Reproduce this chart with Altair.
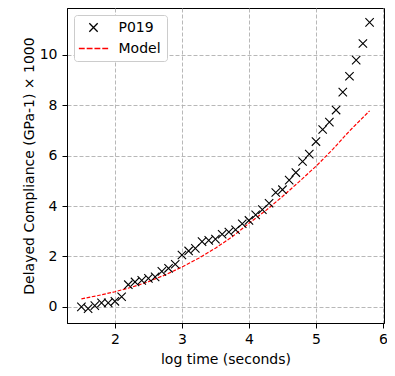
import altair as alt
import pandas as pd

# Measured data (log time, delayed compliance x1000)
log_time = [1.5, 1.6, 1.7, 1.8, 1.9, 2.0, 2.1, 2.2, 2.3, 2.4, 2.5, 2.6, 2.7, 2.8, 2.9,
            3.0, 3.1, 3.2, 3.3, 3.4, 3.5, 3.6, 3.7, 3.8, 3.9, 4.0, 4.1, 4.2, 4.3, 4.4,
            4.5, 4.6, 4.7, 4.8, 4.9, 5.0, 5.1, 5.2, 5.3, 5.4, 5.5, 5.6, 5.7, 5.8]
compliance = [0.00, -0.07, 0.05, 0.16, 0.16, 0.22, 0.40, 0.88, 0.99, 1.05, 1.13, 1.19, 1.41, 1.53, 1.69,
              2.06, 2.22, 2.32, 2.59, 2.64, 2.69, 2.88, 2.97, 3.06, 3.30, 3.43, 3.65, 3.86, 4.11, 4.54,
              4.65, 5.03, 5.33, 5.77, 6.06, 6.56, 7.04, 7.33, 7.81, 8.52, 9.15, 9.79, 10.45, 11.29]

# Model curve
model_x = [1.5, 1.75, 2.0, 2.25, 2.5, 2.75, 3.0, 3.25, 3.5, 3.75, 4.0, 4.25, 4.5, 4.75, 5.0, 5.25, 5.5, 5.8]
model_y = [0.32, 0.45, 0.60, 0.78, 1.00, 1.27, 1.58, 1.93, 2.33, 2.78, 3.32, 3.82, 4.38, 4.97, 5.58, 6.25, 6.98, 7.78]

series_names = ["P019", "Model"]
series_colors = ["black", "red"]
x_ticks = [2, 3, 4, 5, 6]
y_ticks = [0, 2, 4, 6, 8, 10]

df_pts = pd.DataFrame({"t": log_time, "c": compliance, "series": "P019"})
df_model = pd.DataFrame({"t": model_x, "c": model_y})

cross_path = "M-1,-1L1,1M-1,1L1,-1"
dash_path = "M-3.5,0L-2.1,0M-1.63,0L-0.23,0M0.23,0L1.63,0M2.1,0L3.5,0"

FONT = "DejaVu Sans"

xscale = alt.Scale(domain=[1.285, 6.015], nice=False, zero=False)
yscale = alt.Scale(domain=[-0.64, 11.86], nice=False, zero=False)

xaxis = alt.Axis(values=x_ticks, title="log time (seconds)", format="d")
yaxis = alt.Axis(values=y_ticks, title="Delayed Compliance (GPa-1) × 1000", format="d")

legend = alt.Legend(
    title=None, orient="none", legendX=7, legendY=7,
    symbolSize=70, symbolStrokeWidth=1.3, symbolFillColor="transparent",
    symbolOffset=7,
    labelFontSize=14, labelFont=FONT, labelColor="black", labelOffset=18,
    padding=5.5, rowPadding=7, strokeColor="#cccccc", fillColor="white",
    cornerRadius=3,
)

line = alt.Chart(df_model).mark_line(
    color="red", strokeDash=[3.7, 1.6], strokeWidth=1.2
).encode(
    x=alt.X("t:Q", scale=xscale, axis=xaxis),
    y=alt.Y("c:Q", scale=yscale, axis=yaxis),
)

pts = alt.Chart(df_pts).mark_point(
    filled=False, strokeWidth=1.1, size=70, opacity=1
).encode(
    x=alt.X("t:Q", scale=xscale, axis=xaxis),
    y=alt.Y("c:Q", scale=yscale, axis=yaxis),
    shape=alt.Shape("series:N", scale=alt.Scale(domain=series_names, range=[cross_path, dash_path]), legend=legend),
    color=alt.Color("series:N", scale=alt.Scale(domain=series_names, range=series_colors), legend=legend),
)

chart = alt.layer(line, pts).properties(
    width=317, height=315,
    padding={"left": 59, "top": 0, "right": 3, "bottom": 45},
    autosize=alt.AutoSizeParams(type="none"),
).configure_view(
    stroke="black", strokeWidth=1
).configure_axis(
    labelFont=FONT, titleFont=FONT, labelFontSize=14, titleFontSize=14,
    titleFontWeight="normal", labelColor="black", titleColor="black",
    domainColor="black", tickColor="black", tickSize=5, labelPadding=5,
    grid=True, gridColor="#b0b0b0", gridDash=[4, 2], gridWidth=0.9,
).configure_axisX(
    titlePadding=6, labelPadding=4
).configure_axisY(
    titlePadding=3
)

chart.save("out.html", embed_options={"renderer": "svg", "actions": False})
